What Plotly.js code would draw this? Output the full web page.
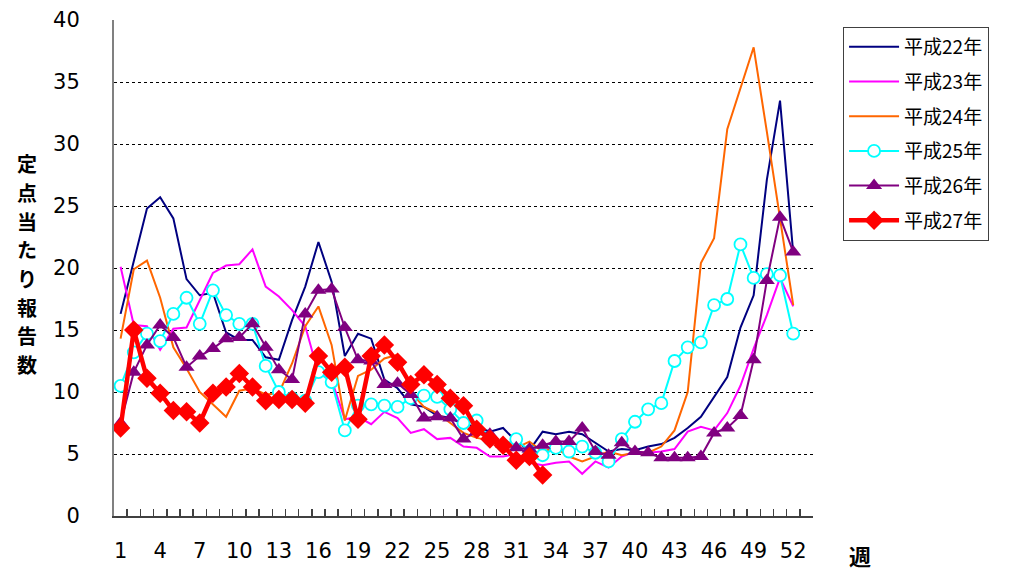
<!DOCTYPE html>
<html><head><meta charset="utf-8">
<script src="https://cdn.plot.ly/plotly-3.0.1.min.js"></script>
<style>html,body{margin:0;padding:0;background:#fff;} #chart{width:1016px;height:571px;}</style>
</head><body><div id="chart"></div>
<script>
const weeks = [1,2,3,4,5,6,7,8,9,10,11,12,13,14,15,16,17,18,19,20,21,22,23,24,25,26,
  27,28,29,30,31,32,33,34,35,36,37,38,39,40,41,42,43,44,45,46,47,48,49,50,51,52];
const seriesNames = ['平成22年','平成23年','平成24年','平成25年','平成26年','平成27年'];
const h22 = [16.3,20.5,24.8,25.7,24.0,19.1,17.8,18.0,14.8,14.2,14.2,12.8,12.6,15.8,18.5,22.1,18.9,12.9,14.7,14.3,
  11.0,10.3,9.0,8.8,8.1,7.9,7.4,7.2,6.8,7.1,6.0,5.3,6.8,6.6,6.8,6.6,5.9,5.2,5.4,5.3,
  5.6,5.8,6.3,7.1,8.0,9.6,11.2,15.2,17.8,27.1,33.5,21.2];
const h23 = [20.1,15.4,15.3,13.4,15.1,15.2,17.4,19.6,20.2,20.3,21.5,18.5,17.7,16.6,15.3,11.5,11.0,7.8,8.0,7.4,
  8.4,7.9,6.7,7.0,6.2,6.3,5.6,5.5,4.8,4.8,5.0,4.3,4.1,4.3,4.4,3.4,4.4,3.9,4.8,5.2,
  5.1,5.2,5.4,6.8,7.2,6.9,8.3,10.5,13.5,16.2,19.2,16.9];
const h24 = [14.3,19.9,20.6,17.6,13.6,11.9,10.0,9.0,8.0,10.1,10.3,9.8,9.9,12.3,15.3,16.9,13.8,7.7,11.3,11.8,
  12.7,13.0,10.0,8.8,8.3,7.5,6.7,6.3,6.1,5.8,5.5,6.0,5.2,5.5,4.8,4.4,4.8,5.2,4.9,5.1,
  5.1,5.6,6.9,10.0,20.4,22.4,31.2,34.5,37.8,31.0,24.1,17.0];
const h25 = [10.5,13.2,14.7,14.1,16.3,17.6,15.5,18.2,16.2,15.5,15.5,12.1,10.0,9.5,9.3,11.6,10.8,6.9,8.9,9.0,
  8.9,8.8,9.5,9.7,9.6,8.6,7.5,7.7,6.2,5.7,6.2,5.2,4.9,5.5,5.2,5.6,5.1,4.4,6.2,7.6,
  8.6,9.1,12.5,13.6,14.0,17.0,17.5,21.9,19.2,19.5,19.4,14.7];
const h26 = [7.5,11.6,13.8,15.4,14.4,12.0,12.9,13.5,14.3,14.4,15.5,13.6,11.8,11.0,16.3,18.2,18.3,15.2,12.6,12.5,
  10.6,10.7,9.8,7.9,8.0,7.9,6.2,6.8,6.6,5.8,5.5,5.4,5.7,6.0,6.0,7.1,5.2,4.9,5.9,5.2,
  5.1,4.7,4.7,4.7,4.8,6.7,7.1,8.1,12.6,19.0,24.1,21.3];
const h27 = [7.1,15.0,11.1,9.9,8.5,8.4,7.5,9.9,10.4,11.5,10.4,9.3,9.4,9.4,9.1,12.9,11.6,12.0,7.8,12.9,
  13.8,12.4,10.6,11.4,10.6,9.5,8.9,7.0,6.2,5.7,4.5,4.8,3.3];
const xTickVals = [1,4,7,10,13,16,19,22,25,28,31,34,37,40,43,46,49,52];
const xTickText = ['1','4','7','10','13','16','19','22','25','28','31','34','37','40','43','46','49','52'];
const yTickVals = [0,5,10,15,20,25,30,35,40];
const yTitleChars = ['定','点','当','た','り','報','告','数'];
const xTitle = '週';

const boundaries = [];
for (let i = 0; i <= 53; i++) boundaries.push(i + 0.5);

const traces = [
  {x: weeks, y: h22, name: seriesNames[0], legendgroup: 'g1', mode: 'lines',
   line: {color: '#000080', width: 2}},
  {x: weeks, y: h23, name: seriesNames[1], legendgroup: 'g2', mode: 'lines',
   line: {color: '#FF00FF', width: 2}},
  {x: weeks, y: h24, name: seriesNames[2], legendgroup: 'g3', mode: 'lines',
   line: {color: '#FF6600', width: 2}},
  {x: weeks, y: h25, name: seriesNames[3], legendgroup: 'g4', mode: 'lines+markers',
   line: {color: '#00FFFF', width: 2},
   marker: {symbol: 'circle', size: 12, color: '#FFFFFF', line: {color: '#00FFFF', width: 1.8}}},
  {x: weeks, y: h26, name: seriesNames[4], legendgroup: 'g5', mode: 'lines+markers',
   line: {color: '#800080', width: 2},
   marker: {symbol: 'triangle-up', size: 14, color: '#800080'}},
  {x: weeks.slice(0, h27.length), y: h27, name: seriesNames[5], legendgroup: 'g6', mode: 'lines+markers',
   line: {color: '#FF0000', width: 4.5},
   marker: {symbol: 'diamond', size: 15, color: '#FF0000'}},
  {x: [], y: [], xaxis: 'x2', yaxis: 'y', showlegend: false, hoverinfo: 'skip', mode: 'lines'}
];

const tickFont = {family: 'DejaVu Sans', size: 21, color: '#000'};

// y-axis title: one upright character per line, stacked
const plotTop = 20, plotH = 496, charStep = 28.6, firstCharY = 164;
const titleAnnotations = yTitleChars.map((ch, i) => ({
  xref: 'paper', yref: 'paper', x: -0.1245,
  y: (plotH - (firstCharY + i * charStep - plotTop)) / plotH,
  xanchor: 'center', yanchor: 'middle', text: ch, showarrow: false, borderpad: 0,
  font: {family: 'Noto Sans CJK JP', size: 20, color: '#000', weight: 'bold'}
}));

const layout = {
  width: 1016, height: 571,
  margin: {l: 114, r: 203, t: 20, b: 55},
  paper_bgcolor: '#fff', plot_bgcolor: '#fff',
  showlegend: true,
  xaxis: {range: [0.5, 53.5], tickmode: 'array', tickvals: xTickVals, ticktext: xTickText,
    ticks: '', showgrid: false, zeroline: false, showline: true, linecolor: '#404040', linewidth: 2,
    tickfont: tickFont, ticklabelstandoff: 15, fixedrange: true},
  xaxis2: {overlaying: 'x', anchor: 'y', side: 'bottom', range: [0.5, 53.5], tickmode: 'array',
    tickvals: boundaries, ticks: 'inside', ticklen: 7, tickwidth: 1.5, tickcolor: '#404040',
    showticklabels: false, showgrid: false, zeroline: false, showline: false, fixedrange: true},
  yaxis: {range: [0, 40], tickmode: 'array', tickvals: yTickVals, ticks: '',
    showgrid: true, gridcolor: '#000', griddash: 'dot', gridwidth: 1,
    zeroline: false, showline: true, linecolor: '#808080', linewidth: 2,
    tickfont: tickFont, ticklabelstandoff: 28, fixedrange: true},
  legend: {x: 1.043, y: 0.986, xanchor: 'left', yanchor: 'top', bgcolor: '#fff',
    bordercolor: '#404040', borderwidth: 1, tracegroupgap: 7, itemwidth: 50,
    font: {family: 'Noto Sans CJK JP', size: 19, color: '#000'}},
  annotations: titleAnnotations.concat([
    {xref: 'paper', yref: 'paper', x: 1.067, y: -0.078, xanchor: 'center', yanchor: 'middle',
     text: xTitle, showarrow: false,
     font: {family: 'Noto Sans CJK JP', size: 22, color: '#000', weight: 'bold'}}
  ])
};

Plotly.newPlot('chart', traces, layout, {displayModeBar: false, staticPlot: true});
</script>
</body></html>
